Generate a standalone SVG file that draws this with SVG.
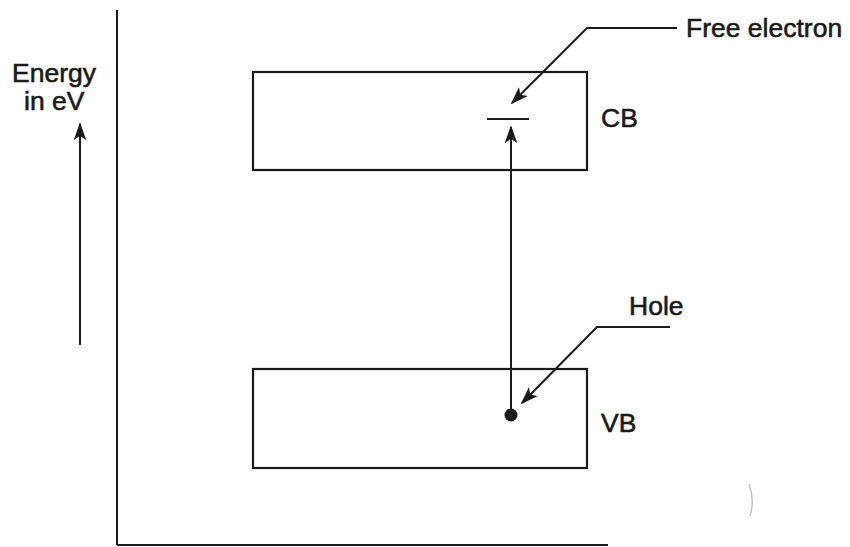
<svg xmlns="http://www.w3.org/2000/svg" width="850" height="547" viewBox="0 0 850 547">
<style>
.ln{stroke:#1a1a1a;stroke-width:2;fill:none}
.box{stroke:#1a1a1a;stroke-width:2.2;fill:#fff}
.t{font-family:"Liberation Sans",Arial,sans-serif;font-size:26.5px;fill:#1a1a1a;stroke:#1a1a1a;stroke-width:0.6}
</style>
<defs>
<marker id="ahl" viewBox="0 0 10 10" refX="9" refY="5" markerWidth="18" markerHeight="18" markerUnits="userSpaceOnUse" orient="auto">
<path d="M0,1.5 L10,5 L0,8.5 L2.5,5 Z" fill="#1a1a1a"/>
</marker>
</defs>
<rect width="850" height="547" fill="#fff"/>
<g id="axes">
<line class="ln" x1="117" y1="10" x2="117" y2="545"/>
<line class="ln" x1="117" y1="545" x2="608" y2="545"/>
</g>
<g id="energy-label">
<text class="t" x="12" y="82">Energy</text>
<text class="t" x="24" y="110">in eV</text>
</g>
<g id="cb">
<rect class="box" x="253" y="72" width="334" height="98"/>
<text class="t" x="601" y="127">CB</text>
</g>
<g id="vb">
<rect class="box" x="253" y="369" width="334" height="99"/>
<text class="t" x="601" y="432">VB</text>
</g>
<g id="electron">
<line class="ln" x1="487" y1="119" x2="529" y2="119"/>
</g>
<g id="hole">
<circle cx="511" cy="415" r="6.5" fill="#1a1a1a"/>
</g>
<g id="free-electron-label">
<text class="t" x="686" y="37">Free electron</text>
</g>
<g id="hole-label">
<text class="t" x="629" y="315">Hole</text>
</g>
<g id="connectors">
<line class="ln" x1="80" y1="345" x2="80" y2="124" marker-end="url(#ahl)"/>
<line class="ln" x1="511" y1="410" x2="511" y2="127" marker-end="url(#ahl)"/>
<polyline class="ln" points="677,28 587,28 512,103" marker-end="url(#ahl)"/>
<polyline class="ln" points="670,327 597,327 522,403" marker-end="url(#ahl)"/>
</g>
<path d="M749,484 Q755,500 750,516" stroke="#bbb" stroke-width="1.3" fill="none"/>
</svg>
